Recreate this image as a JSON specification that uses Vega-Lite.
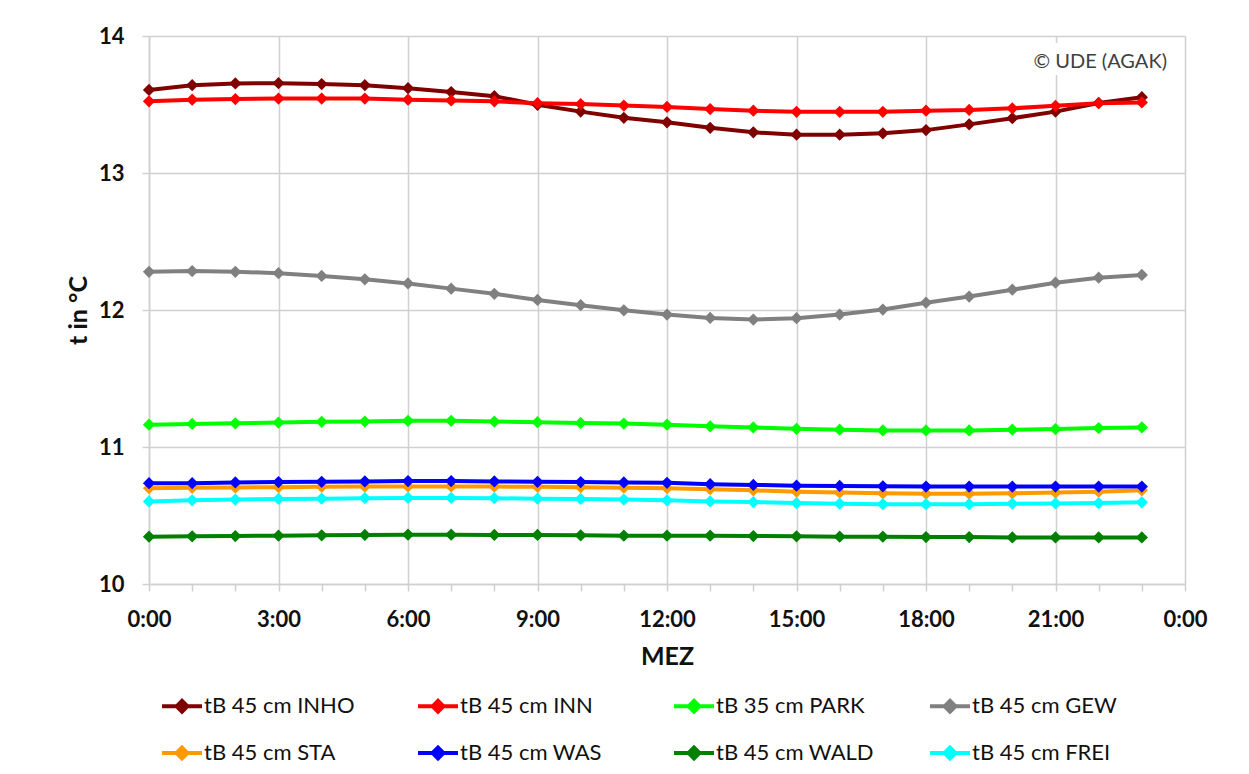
{
  "$schema": "https://vega.github.io/schema/vega-lite/v6.json",
  "width": 1036,
  "height": 548,
  "autosize": {"type": "none"},
  "padding": {"left": 149, "top": 36, "right": 64, "bottom": 190},
  "background": "white",
  "config": {"view": {"stroke": null}, "font": "Lato"},
  "title": {"text": "© UDE (AGAK)", "anchor": "end", "frame": "group", "orient": "top", "baseline": "middle", "offset": 0, "dx": -18, "dy": 57, "font": "Lato", "fontSize": 20, "fontWeight": "normal", "color": "#404040"},
  "layer": [
    {
      "data": {"values": [{}]},
      "mark": {"type": "rect", "fill": "white"},
      "encoding": {
        "x": {"datum": 20.48, "type": "quantitative"},
        "x2": {"datum": 23.84},
        "y": {"datum": 13.949, "type": "quantitative"},
        "y2": {"datum": 13.715}
      }
    },
    {
      "data": {"values": [
        {"s":"tB 45 cm INHO","h":0,"t":13.606},{"s":"tB 45 cm INHO","h":1,"t":13.641},{"s":"tB 45 cm INHO","h":2,"t":13.654},{"s":"tB 45 cm INHO","h":3,"t":13.656},{"s":"tB 45 cm INHO","h":4,"t":13.649},{"s":"tB 45 cm INHO","h":5,"t":13.641},{"s":"tB 45 cm INHO","h":6,"t":13.619},{"s":"tB 45 cm INHO","h":7,"t":13.591},{"s":"tB 45 cm INHO","h":8,"t":13.561},{"s":"tB 45 cm INHO","h":9,"t":13.498},{"s":"tB 45 cm INHO","h":10,"t":13.448},{"s":"tB 45 cm INHO","h":11,"t":13.403},{"s":"tB 45 cm INHO","h":12,"t":13.37},{"s":"tB 45 cm INHO","h":13,"t":13.33},{"s":"tB 45 cm INHO","h":14,"t":13.297},{"s":"tB 45 cm INHO","h":15,"t":13.28},{"s":"tB 45 cm INHO","h":16,"t":13.28},{"s":"tB 45 cm INHO","h":17,"t":13.29},{"s":"tB 45 cm INHO","h":18,"t":13.313},{"s":"tB 45 cm INHO","h":19,"t":13.355},{"s":"tB 45 cm INHO","h":20,"t":13.4},{"s":"tB 45 cm INHO","h":21,"t":13.448},{"s":"tB 45 cm INHO","h":22,"t":13.511},{"s":"tB 45 cm INHO","h":23,"t":13.553},
        {"s":"tB 45 cm INN","h":0,"t":13.523},{"s":"tB 45 cm INN","h":1,"t":13.535},{"s":"tB 45 cm INN","h":2,"t":13.54},{"s":"tB 45 cm INN","h":3,"t":13.543},{"s":"tB 45 cm INN","h":4,"t":13.543},{"s":"tB 45 cm INN","h":5,"t":13.543},{"s":"tB 45 cm INN","h":6,"t":13.535},{"s":"tB 45 cm INN","h":7,"t":13.53},{"s":"tB 45 cm INN","h":8,"t":13.523},{"s":"tB 45 cm INN","h":9,"t":13.51},{"s":"tB 45 cm INN","h":10,"t":13.503},{"s":"tB 45 cm INN","h":11,"t":13.492},{"s":"tB 45 cm INN","h":12,"t":13.482},{"s":"tB 45 cm INN","h":13,"t":13.467},{"s":"tB 45 cm INN","h":14,"t":13.455},{"s":"tB 45 cm INN","h":15,"t":13.447},{"s":"tB 45 cm INN","h":16,"t":13.447},{"s":"tB 45 cm INN","h":17,"t":13.447},{"s":"tB 45 cm INN","h":18,"t":13.455},{"s":"tB 45 cm INN","h":19,"t":13.46},{"s":"tB 45 cm INN","h":20,"t":13.472},{"s":"tB 45 cm INN","h":21,"t":13.49},{"s":"tB 45 cm INN","h":22,"t":13.51},{"s":"tB 45 cm INN","h":23,"t":13.515},
        {"s":"tB 35 cm PARK","h":0,"t":11.163},{"s":"tB 35 cm PARK","h":1,"t":11.168},{"s":"tB 35 cm PARK","h":2,"t":11.173},{"s":"tB 35 cm PARK","h":3,"t":11.178},{"s":"tB 35 cm PARK","h":4,"t":11.184},{"s":"tB 35 cm PARK","h":5,"t":11.186},{"s":"tB 35 cm PARK","h":6,"t":11.191},{"s":"tB 35 cm PARK","h":7,"t":11.191},{"s":"tB 35 cm PARK","h":8,"t":11.186},{"s":"tB 35 cm PARK","h":9,"t":11.181},{"s":"tB 35 cm PARK","h":10,"t":11.176},{"s":"tB 35 cm PARK","h":11,"t":11.171},{"s":"tB 35 cm PARK","h":12,"t":11.163},{"s":"tB 35 cm PARK","h":13,"t":11.151},{"s":"tB 35 cm PARK","h":14,"t":11.143},{"s":"tB 35 cm PARK","h":15,"t":11.133},{"s":"tB 35 cm PARK","h":16,"t":11.126},{"s":"tB 35 cm PARK","h":17,"t":11.121},{"s":"tB 35 cm PARK","h":18,"t":11.121},{"s":"tB 35 cm PARK","h":19,"t":11.121},{"s":"tB 35 cm PARK","h":20,"t":11.126},{"s":"tB 35 cm PARK","h":21,"t":11.131},{"s":"tB 35 cm PARK","h":22,"t":11.138},{"s":"tB 35 cm PARK","h":23,"t":11.143},
        {"s":"tB 45 cm GEW","h":0,"t":12.279},{"s":"tB 45 cm GEW","h":1,"t":12.284},{"s":"tB 45 cm GEW","h":2,"t":12.279},{"s":"tB 45 cm GEW","h":3,"t":12.269},{"s":"tB 45 cm GEW","h":4,"t":12.249},{"s":"tB 45 cm GEW","h":5,"t":12.224},{"s":"tB 45 cm GEW","h":6,"t":12.194},{"s":"tB 45 cm GEW","h":7,"t":12.156},{"s":"tB 45 cm GEW","h":8,"t":12.118},{"s":"tB 45 cm GEW","h":9,"t":12.073},{"s":"tB 45 cm GEW","h":10,"t":12.035},{"s":"tB 45 cm GEW","h":11,"t":11.998},{"s":"tB 45 cm GEW","h":12,"t":11.967},{"s":"tB 45 cm GEW","h":13,"t":11.942},{"s":"tB 45 cm GEW","h":14,"t":11.93},{"s":"tB 45 cm GEW","h":15,"t":11.94},{"s":"tB 45 cm GEW","h":16,"t":11.967},{"s":"tB 45 cm GEW","h":17,"t":12.003},{"s":"tB 45 cm GEW","h":18,"t":12.053},{"s":"tB 45 cm GEW","h":19,"t":12.098},{"s":"tB 45 cm GEW","h":20,"t":12.148},{"s":"tB 45 cm GEW","h":21,"t":12.199},{"s":"tB 45 cm GEW","h":22,"t":12.236},{"s":"tB 45 cm GEW","h":23,"t":12.256},
        {"s":"tB 45 cm STA","h":0,"t":10.699},{"s":"tB 45 cm STA","h":1,"t":10.702},{"s":"tB 45 cm STA","h":2,"t":10.704},{"s":"tB 45 cm STA","h":3,"t":10.707},{"s":"tB 45 cm STA","h":4,"t":10.709},{"s":"tB 45 cm STA","h":5,"t":10.711},{"s":"tB 45 cm STA","h":6,"t":10.712},{"s":"tB 45 cm STA","h":7,"t":10.712},{"s":"tB 45 cm STA","h":8,"t":10.711},{"s":"tB 45 cm STA","h":9,"t":10.709},{"s":"tB 45 cm STA","h":10,"t":10.707},{"s":"tB 45 cm STA","h":11,"t":10.703},{"s":"tB 45 cm STA","h":12,"t":10.699},{"s":"tB 45 cm STA","h":13,"t":10.692},{"s":"tB 45 cm STA","h":14,"t":10.684},{"s":"tB 45 cm STA","h":15,"t":10.674},{"s":"tB 45 cm STA","h":16,"t":10.667},{"s":"tB 45 cm STA","h":17,"t":10.662},{"s":"tB 45 cm STA","h":18,"t":10.659},{"s":"tB 45 cm STA","h":19,"t":10.659},{"s":"tB 45 cm STA","h":20,"t":10.662},{"s":"tB 45 cm STA","h":21,"t":10.667},{"s":"tB 45 cm STA","h":22,"t":10.674},{"s":"tB 45 cm STA","h":23,"t":10.684},
        {"s":"tB 45 cm WAS","h":0,"t":10.736},{"s":"tB 45 cm WAS","h":1,"t":10.736},{"s":"tB 45 cm WAS","h":2,"t":10.741},{"s":"tB 45 cm WAS","h":3,"t":10.744},{"s":"tB 45 cm WAS","h":4,"t":10.746},{"s":"tB 45 cm WAS","h":5,"t":10.749},{"s":"tB 45 cm WAS","h":6,"t":10.751},{"s":"tB 45 cm WAS","h":7,"t":10.751},{"s":"tB 45 cm WAS","h":8,"t":10.749},{"s":"tB 45 cm WAS","h":9,"t":10.746},{"s":"tB 45 cm WAS","h":10,"t":10.744},{"s":"tB 45 cm WAS","h":11,"t":10.741},{"s":"tB 45 cm WAS","h":12,"t":10.739},{"s":"tB 45 cm WAS","h":13,"t":10.729},{"s":"tB 45 cm WAS","h":14,"t":10.723},{"s":"tB 45 cm WAS","h":15,"t":10.718},{"s":"tB 45 cm WAS","h":16,"t":10.716},{"s":"tB 45 cm WAS","h":17,"t":10.713},{"s":"tB 45 cm WAS","h":18,"t":10.711},{"s":"tB 45 cm WAS","h":19,"t":10.711},{"s":"tB 45 cm WAS","h":20,"t":10.711},{"s":"tB 45 cm WAS","h":21,"t":10.711},{"s":"tB 45 cm WAS","h":22,"t":10.711},{"s":"tB 45 cm WAS","h":23,"t":10.711},
        {"s":"tB 45 cm WALD","h":0,"t":10.345},{"s":"tB 45 cm WALD","h":1,"t":10.348},{"s":"tB 45 cm WALD","h":2,"t":10.35},{"s":"tB 45 cm WALD","h":3,"t":10.353},{"s":"tB 45 cm WALD","h":4,"t":10.355},{"s":"tB 45 cm WALD","h":5,"t":10.358},{"s":"tB 45 cm WALD","h":6,"t":10.36},{"s":"tB 45 cm WALD","h":7,"t":10.36},{"s":"tB 45 cm WALD","h":8,"t":10.358},{"s":"tB 45 cm WALD","h":9,"t":10.358},{"s":"tB 45 cm WALD","h":10,"t":10.355},{"s":"tB 45 cm WALD","h":11,"t":10.353},{"s":"tB 45 cm WALD","h":12,"t":10.353},{"s":"tB 45 cm WALD","h":13,"t":10.353},{"s":"tB 45 cm WALD","h":14,"t":10.35},{"s":"tB 45 cm WALD","h":15,"t":10.348},{"s":"tB 45 cm WALD","h":16,"t":10.345},{"s":"tB 45 cm WALD","h":17,"t":10.345},{"s":"tB 45 cm WALD","h":18,"t":10.343},{"s":"tB 45 cm WALD","h":19,"t":10.343},{"s":"tB 45 cm WALD","h":20,"t":10.34},{"s":"tB 45 cm WALD","h":21,"t":10.34},{"s":"tB 45 cm WALD","h":22,"t":10.34},{"s":"tB 45 cm WALD","h":23,"t":10.34},
        {"s":"tB 45 cm FREI","h":0,"t":10.603},{"s":"tB 45 cm FREI","h":1,"t":10.611},{"s":"tB 45 cm FREI","h":2,"t":10.616},{"s":"tB 45 cm FREI","h":3,"t":10.621},{"s":"tB 45 cm FREI","h":4,"t":10.623},{"s":"tB 45 cm FREI","h":5,"t":10.626},{"s":"tB 45 cm FREI","h":6,"t":10.628},{"s":"tB 45 cm FREI","h":7,"t":10.628},{"s":"tB 45 cm FREI","h":8,"t":10.626},{"s":"tB 45 cm FREI","h":9,"t":10.623},{"s":"tB 45 cm FREI","h":10,"t":10.621},{"s":"tB 45 cm FREI","h":11,"t":10.616},{"s":"tB 45 cm FREI","h":12,"t":10.611},{"s":"tB 45 cm FREI","h":13,"t":10.603},{"s":"tB 45 cm FREI","h":14,"t":10.598},{"s":"tB 45 cm FREI","h":15,"t":10.591},{"s":"tB 45 cm FREI","h":16,"t":10.586},{"s":"tB 45 cm FREI","h":17,"t":10.583},{"s":"tB 45 cm FREI","h":18,"t":10.583},{"s":"tB 45 cm FREI","h":19,"t":10.583},{"s":"tB 45 cm FREI","h":20,"t":10.586},{"s":"tB 45 cm FREI","h":21,"t":10.588},{"s":"tB 45 cm FREI","h":22,"t":10.591},{"s":"tB 45 cm FREI","h":23,"t":10.596}
      ]},
      "mark": {"type": "line", "strokeWidth": 4, "point": {"shape": "diamond", "size": 150, "filled": true, "opacity": 1}},
      "encoding": {
        "x": {
          "field": "h", "type": "quantitative",
          "scale": {"domain": [0, 24], "nice": false, "zero": false},
          "axis": {
            "title": "MEZ",
            "values": [0,1,2,3,4,5,6,7,8,9,10,11,12,13,14,15,16,17,18,19,20,21,22,23,24],
            "labelExpr": "datum.value % 3 === 0 ? (datum.value % 24) + ':00' : ''",
            "grid": true, "gridColor": "#d0d0d0", "gridWidth": 1.5,
            "gridOpacity": {"condition": {"test": "datum.value % 3 !== 0", "value": 0}, "value": 1},
            "domainColor": "#d0d0d0", "domainWidth": 1.5,
            "tickColor": "#d0d0d0", "tickWidth": 1.5, "tickSize": 7,
            "labelFont": "Lato", "labelFontWeight": "bold", "labelFontSize": 22, "labelColor": "#111111",
            "labelPadding": 18, "labelOverlap": false, "labelBound": false, "labelFlush": false,
            "titleFont": "Lato", "titleFontWeight": "bold", "titleFontSize": 25, "titleColor": "#111111",
            "titleX": 518, "titleY": 72, "titleBaseline": "middle", "titleAlign": "center"
          }
        },
        "y": {
          "field": "t", "type": "quantitative",
          "scale": {"domain": [10, 14], "nice": false, "zero": false},
          "axis": {
            "title": "t in °C",
            "values": [10, 11, 12, 13, 14],
            "format": "d",
            "grid": true, "gridColor": "#d0d0d0", "gridWidth": 1.5,
            "domainColor": "#d0d0d0", "domainWidth": 1.5,
            "tickColor": "#d0d0d0", "tickWidth": 1.5, "tickSize": 7,
            "labelFont": "Lato", "labelFontWeight": "bold", "labelFontSize": 22, "labelColor": "#111111",
            "labelPadding": 18, "labelFlush": false,
            "titleFont": "Lato", "titleFontWeight": "bold", "titleFontSize": 25, "titleColor": "#111111",
            "titleX": -71, "titleY": 274, "titleAngle": 270, "titleBaseline": "middle", "titleAlign": "center"
          }
        },
        "color": {
          "field": "s", "type": "nominal",
          "scale": {
            "domain": ["tB 45 cm INHO", "tB 45 cm INN", "tB 35 cm PARK", "tB 45 cm GEW", "tB 45 cm STA", "tB 45 cm WAS", "tB 45 cm WALD", "tB 45 cm FREI"],
            "range": ["#800000", "#FF0000", "#00FF00", "#808080", "#FF9900", "#0000FF", "#008000", "#00FFFF"]
          },
          "legend": {
            "title": null, "orient": "none", "legendX": 11, "legendY": 648,
            "direction": "horizontal", "columns": 4, "gridAlign": "all",
            "columnPadding": 48, "rowPadding": 11, "padding": 0,
            "symbolType": "M-1,0L1,0M-0.27,0L0,-0.27L0.27,0L0,0.27Z",
            "symbolSize": 1600, "symbolStrokeWidth": 4, "symbolOpacity": 1,
            "labelFont": "Lato", "labelFontSize": 22, "labelColor": "#111111",
            "labelOffset": 0, "labelLimit": 300,
            "encode": {"symbols": {"update": {"fill": {"scale": "color", "field": "value"}, "stroke": {"scale": "color", "field": "value"}}}}
          }
        }
      }
    }
  ]
}
